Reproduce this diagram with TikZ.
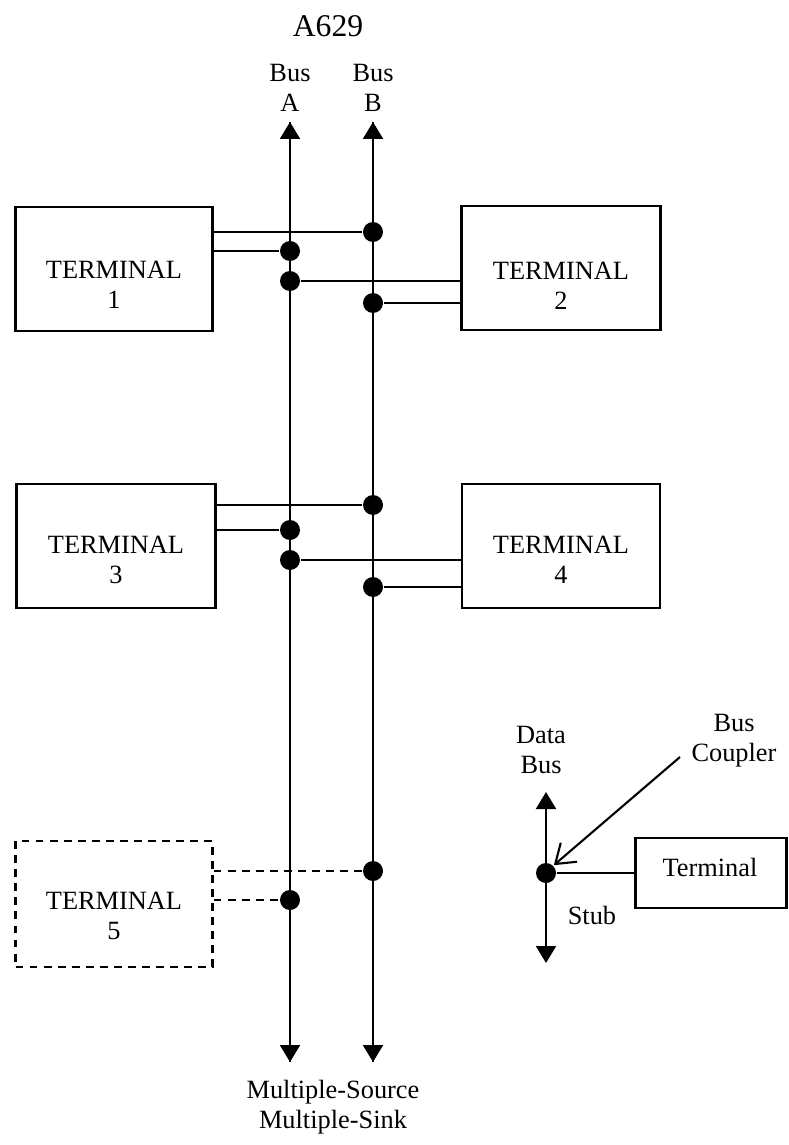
\documentclass[tikz,border=0pt]{standalone}
\usepackage{fontspec}
\setmainfont{Liberation Serif}
\usetikzlibrary{arrows.meta}

\tikzset{
	terminal/.style={shape=rectangle,draw,minimum width=3.94cm,minimum height=2.48cm},
	tap/.style={shape=circle,fill,inner sep=0pt,minimum size=0.4cm},
	busarrow/.style={-{Triangle[length=0.34cm,width=0.4cm]}},
	stubdash/.style={dash pattern=on 4.5pt off 3.5pt}
}

\begin{document}
\begin{tikzpicture}[x=0.02cm,y=-0.02cm,line width=1.2pt,font=\fontsize{15pt}{17pt}\selectfont]
	\useasboundingbox (0,0) rectangle (788,1145);
	% terminals
	\draw (114,269) node (t1) [terminal] {};
	\draw (561,268) node (t2) [terminal,minimum width=3.98cm] {};
	\draw (116,546) node (t3) [terminal,minimum width=3.98cm] {};
	\draw (561,546) node (t4) [terminal,minimum width=3.96cm] {};
	\draw (114,904) node (t5) [terminal,stubdash,minimum height=2.52cm] {};
	\foreach \t/\n/\dy in {t1/1/16,t2/2/18,t3/3/14,t4/4/14,t5/5/12} {
		\node (\t txt) [align=center] at ([yshift=-\dy*0.02cm]\t.center) {TERMINAL\\\n};
	}
	% buses
	\coordinate (Atop) at (290,122);
	\coordinate (Abot) at (290,1062);
	\coordinate (Btop) at (373,122);
	\coordinate (Bbot) at (373,1062);
	\draw [busarrow] (Abot) -- (Atop);
	\draw [busarrow] (Atop) -- (Abot);
	\draw [busarrow] (Bbot) -- (Btop);
	\draw [busarrow] (Btop) -- (Bbot);
	\draw (290,88) node (busA) [align=center] {Bus\\A};
	\draw (373,88) node (busB) [align=center] {Bus\\B};
	\draw (328,26) node (title) [font=\fontsize{18pt}{20pt}\selectfont] {A629};
	\draw (333,1107) node (sink) [align=center] {Multiple-Source\\Multiple-Sink};
	% bus couplers
	\foreach \n/\x/\y in {b1/373/232,a1/290/251,a2/290/281,b2/373/303,
		b3/373/505,a3/290/530,a4/290/560,b4/373/587,b5/373/871,a5/290/900} {
		\node (\n) [tap] at (\x,\y) {};
	}
	\draw (t1.east |- b1) -- (b1);
	\draw (t1.east |- a1) -- (a1);
	\draw (a2) -- (t2.west |- a2);
	\draw (b2) -- (t2.west |- b2);
	\draw (t3.east |- b3) -- (b3);
	\draw (t3.east |- a3) -- (a3);
	\draw (a4) -- (t4.west |- a4);
	\draw (b4) -- (t4.west |- b4);
	\draw [stubdash] (t5.east |- b5) -- (b5);
	\draw [stubdash] (t5.east |- a5) -- (a5);
	% legend
	\node (cp) [tap] at (546,873) {};
	\coordinate (dbtop) at (546,792);
	\coordinate (dbbot) at (546,963);
	\draw [busarrow] (cp.center) -- (dbtop);
	\draw [busarrow] (cp.center) -- (dbbot);
	\draw (711,873) node (term) [shape=rectangle,draw,minimum width=3.02cm,minimum height=1.4cm] {};
	\node (termtxt) at (710,867) {Terminal};
	\draw (cp) -- (term);
	\draw (541,750) node (databus) [align=center] {Data\\Bus};
	\draw (734,741) node (coupler) [align=center] {Bus\\Coupler};
	\draw (592,915) node (stub) {Stub};
	\coordinate (cptail) at (680,757);
	\draw [-{Straight Barb[length=0.36cm,width=0.5cm]}] (cptail) -- (cp.north east);
\end{tikzpicture}
\end{document}
